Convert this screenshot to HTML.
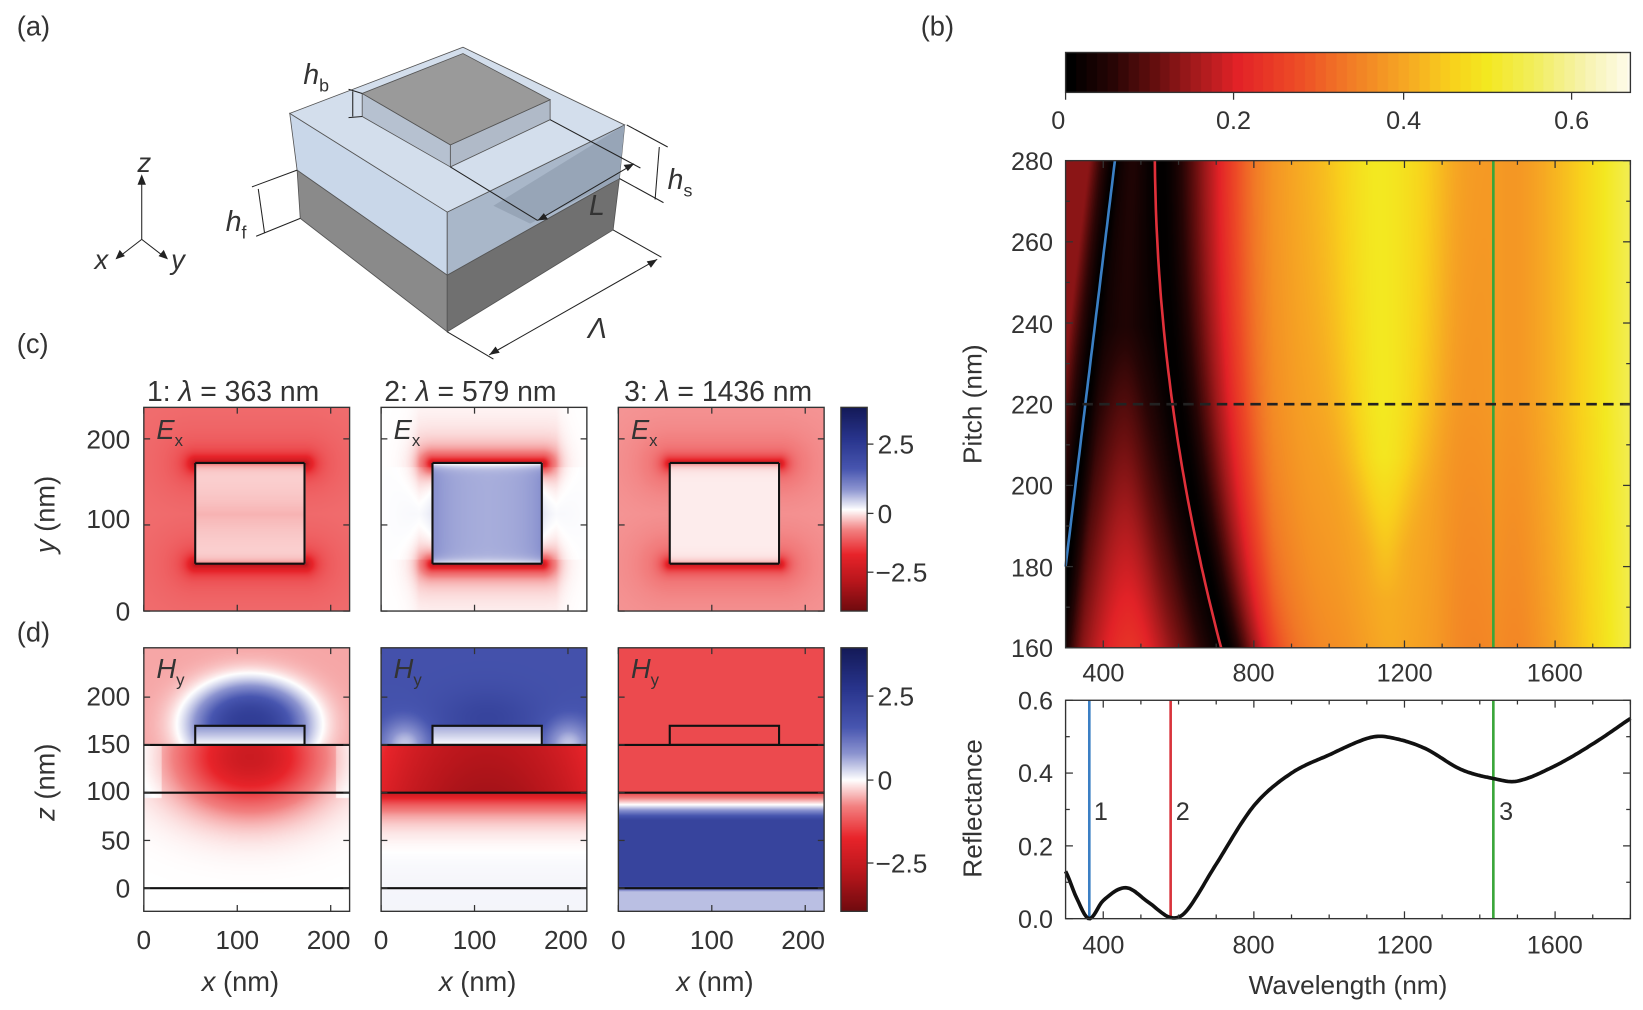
<!DOCTYPE html>
<html><head><meta charset="utf-8">
<style>
html,body{margin:0;padding:0;background:#fff;width:1643px;height:1010px;overflow:hidden}
#w{position:absolute;left:0;top:0;width:1565px;height:962px;transform:scale(1.04984,1.04990);transform-origin:0 0}
canvas{position:absolute}
svg{position:absolute;left:0;top:0}
text{font-family:"Liberation Sans",sans-serif;fill:#333}
</style></head><body>
<div id="w">
<canvas id="hb" width="538" height="464" style="left:1015px;top:153px"></canvas>
<canvas id="cbb" width="538" height="38" style="left:1015px;top:50px"></canvas>
<canvas id="c0" width="196" height="194" style="left:137px;top:388px"></canvas>
<canvas id="c1" width="196" height="194" style="left:363px;top:388px"></canvas>
<canvas id="c2" width="196" height="194" style="left:589px;top:388px"></canvas>
<canvas id="d0" width="196" height="251" style="left:137px;top:617px"></canvas>
<canvas id="d1" width="196" height="251" style="left:363px;top:617px"></canvas>
<canvas id="d2" width="196" height="251" style="left:589px;top:617px"></canvas>
<canvas id="cc" width="25" height="194" style="left:801px;top:388px"></canvas>
<canvas id="cd" width="25" height="251" style="left:801px;top:617px"></canvas>
<svg width="1565" height="962" viewBox="0 0 1565 962">
<g id="draw"></g>
<g stroke="#555" stroke-width="0.8">
<polygon points="283,162 426,262 426,316 286,208" fill="#8a8a8a"/>
<polygon points="426,262 590,170 584,219 426,316" fill="#707070"/>
<polygon points="276,108 426,202 426,262 283,162" fill="#c9d7e9"/>
<polygon points="426,202 595,119 590,170 426,262" fill="#a9b7c9"/>
<polygon points="276,108 441,45 595,119 426,202" fill="#d3deec"/>
<polygon points="470,196 595,119 590,170 505,213" fill="#97a5b7" stroke="none"/>
<polygon points="345,89 429,138 429,159 345,111" fill="#b6c1d0"/>
<polygon points="429,138 524,95 524,114 429,159" fill="#b0bac8"/>
<polygon points="345,89 441,51 524,95 429,138" fill="#9a9a9a"/>
</g>
<g stroke="#222" stroke-width="1" fill="none">
<line x1="429" y1="159" x2="512" y2="210"/>
<line x1="524" y1="114" x2="610" y2="160"/>
<line x1="512" y1="210" x2="604" y2="156"/>
<line x1="332" y1="85" x2="345" y2="89"/><line x1="332" y1="112" x2="345" y2="111"/>
<line x1="336" y1="87" x2="336" y2="111"/>
<line x1="597" y1="119" x2="636" y2="140"/><line x1="590" y1="170" x2="632" y2="193"/>
<line x1="628" y1="140" x2="624" y2="190"/>
<line x1="283" y1="162" x2="240" y2="178"/><line x1="286" y1="208" x2="244" y2="225"/>
<line x1="246" y1="180" x2="252" y2="222"/>
<line x1="584" y1="219" x2="630" y2="245"/><line x1="426" y1="316" x2="470" y2="342"/>
<line x1="466" y1="338" x2="626" y2="247"/>
<line x1="135" y1="228" x2="135" y2="170"/><line x1="135" y1="228" x2="113" y2="245"/><line x1="135" y1="228" x2="157" y2="245"/>
</g>
<g fill="#222">
<polygon points="135,166 131,176 139,176"/><polygon points="110,247 114,238 119,244"/><polygon points="160,247 151,244 156,238"/>
<polygon points="466,338 476,336 472,330"/><polygon points="626,247 616,249 620,255"/>
<polygon points="512,210 522,209 518,203"/><polygon points="604,156 594,157 598,163"/>
</g>
<text x="131" y="164" font-size="26" font-style="italic">z</text>
<text x="90" y="256" font-size="26" font-style="italic">x</text>
<text x="163" y="256" font-size="26" font-style="italic">y</text>
<text x="289" y="80" font-size="27" font-style="italic">h<tspan font-size="17" dy="7" font-style="normal">b</tspan></text>
<text x="636" y="180" font-size="27" font-style="italic">h<tspan font-size="17" dy="7" font-style="normal">s</tspan></text>
<text x="215" y="220" font-size="27" font-style="italic">h<tspan font-size="17" dy="7" font-style="normal">f</tspan></text>
<text x="561" y="205" font-size="27" font-style="italic">L</text>
<text x="560" y="322" font-size="27" font-style="italic">Λ</text>
<text x="16" y="34" font-size="26">(a)</text>
<text x="877" y="34" font-size="26">(b)</text>
<text x="16" y="336" font-size="26">(c)</text>
<text x="16" y="611" font-size="26">(d)</text>
<text x="222" y="382" font-size="27" text-anchor="middle">1: <tspan font-style="italic">λ</tspan> = 363 nm</text>
<text x="448" y="382" font-size="27" text-anchor="middle">2: <tspan font-style="italic">λ</tspan> = 579 nm</text>
<text x="684" y="382" font-size="27" text-anchor="middle">3: <tspan font-style="italic">λ</tspan> = 1436 nm</text>
<g font-size="26" font-style="italic">
<text x="149" y="418">E<tspan font-size="16" dy="7" font-style="normal">x</tspan></text>
<text x="375" y="418">E<tspan font-size="16" dy="7" font-style="normal">x</tspan></text>
<text x="601" y="418">E<tspan font-size="16" dy="7" font-style="normal">x</tspan></text>
<text x="149" y="646">H<tspan font-size="16" dy="7" font-style="normal">y</tspan></text>
<text x="375" y="646">H<tspan font-size="16" dy="7" font-style="normal">y</tspan></text>
<text x="601" y="646">H<tspan font-size="16" dy="7" font-style="normal">y</tspan></text>
</g>
<g font-size="25" text-anchor="end">
<text x="124" y="427">200</text><text x="124" y="503">100</text><text x="124" y="591">0</text>
<text x="124" y="672">200</text><text x="124" y="717">150</text><text x="124" y="762">100</text><text x="124" y="809">50</text><text x="124" y="855">0</text>
</g>
<text transform="translate(52,490) rotate(-90)" font-size="26" text-anchor="middle"><tspan font-style="italic">y</tspan> (nm)</text>
<text transform="translate(52,745) rotate(-90)" font-size="26" text-anchor="middle"><tspan font-style="italic">z</tspan> (nm)</text>
<g font-size="25" text-anchor="middle">
<text x="137" y="904">0</text><text x="226" y="904">100</text><text x="313" y="904">200</text>
<text x="363" y="904">0</text><text x="452" y="904">100</text><text x="539" y="904">200</text>
<text x="589" y="904">0</text><text x="678" y="904">100</text><text x="765" y="904">200</text>
</g>
<g font-size="26" text-anchor="middle">
<text x="229" y="944"><tspan font-style="italic">x</tspan> (nm)</text>
<text x="455" y="944"><tspan font-style="italic">x</tspan> (nm)</text>
<text x="681" y="944"><tspan font-style="italic">x</tspan> (nm)</text>
</g>
<g font-size="25">
<text x="836" y="432">2.5</text><text x="836" y="498">0</text><text x="834" y="554">−2.5</text>
<text x="836" y="672">2.5</text><text x="836" y="752">0</text><text x="834" y="831">−2.5</text>
</g>
<g font-size="24" text-anchor="middle">
<text x="1008" y="123">0</text><text x="1175" y="123">0.2</text><text x="1337" y="123">0.4</text><text x="1497" y="123">0.6</text>
</g>
<g font-size="24" text-anchor="end">
<text x="1003" y="162">280</text><text x="1003" y="239">260</text><text x="1003" y="317">240</text><text x="1003" y="394">220</text><text x="1003" y="471">200</text><text x="1003" y="549">180</text><text x="1003" y="626">160</text>
<text x="1003" y="676">0.6</text><text x="1003" y="745">0.4</text><text x="1003" y="815">0.2</text><text x="1003" y="884">0.0</text>
</g>
<g font-size="24" text-anchor="middle">
<text x="1051" y="649">400</text><text x="1194" y="649">800</text><text x="1338" y="649">1200</text><text x="1481" y="649">1600</text>
<text x="1051" y="908">400</text><text x="1194" y="908">800</text><text x="1338" y="908">1200</text><text x="1481" y="908">1600</text>
</g>
<text transform="translate(935,385) rotate(-90)" font-size="25" text-anchor="middle">Pitch (nm)</text>
<text transform="translate(935,770) rotate(-90)" font-size="25" text-anchor="middle">Reflectance</text>
<text x="1284" y="947" font-size="25" text-anchor="middle">Wavelength (nm)</text>
<text x="1042" y="781" font-size="24">1</text><text x="1120" y="781" font-size="24">2</text><text x="1428" y="781" font-size="24">3</text>
</svg>
</div>
<script>
function lerpStops(st,t){t=Math.max(0,Math.min(1,t));for(let i=1;i<st.length;i++){if(t<=st[i][0]){const a=st[i-1],b=st[i],f=(t-a[0])/(b[0]-a[0]);return [a[1]+(b[1]-a[1])*f,a[2]+(b[2]-a[2])*f,a[3]+(b[3]-a[3])*f];}}const l=st[st.length-1];return [l[1],l[2],l[3]];}
const HOT=[[0,0,0,0],[0.05,40,5,5],[0.1,100,14,14],[0.15,165,26,28],[0.2,226,34,39],[0.27,237,74,38],[0.33,241,120,38],[0.4,246,166,35],[0.46,248,210,28],[0.5,243,232,32],[0.56,242,238,96],[0.62,247,243,176],[0.68,255,253,245]];
const DIV=[[0,110,10,14],[0.15,185,22,28],[0.28,232,36,42],[0.4,242,128,128],[0.5,255,255,255],[0.6,140,148,208],[0.7,72,86,176],[0.85,40,52,140],[1,20,26,88]];
const pts=[[200,0.3],[300,0.13],[330,0.055],[363,0],[400,0.05],[460,0.085],[520,0.045],[579,0.003],[620,0.02],[700,0.15],[800,0.31],[900,0.40],[1000,0.45],[1100,0.495],[1150,0.50],[1250,0.47],[1350,0.41],[1436,0.385],[1500,0.378],[1600,0.42],[1700,0.48],[1800,0.55],[1900,0.62]];
function curve(w){for(let i=1;i<pts.length-2;i++){if(w<=pts[i+1][0]){const p0=pts[i-1],p1=pts[i],p2=pts[i+1],p3=pts[i+2];const t=(w-p1[0])/(p2[0]-p1[0]);const m1=(p2[1]-p0[1])/(p2[0]-p0[0])*(p2[0]-p1[0]),m2=(p3[1]-p1[1])/(p3[0]-p1[0])*(p2[0]-p1[0]);const t2=t*t,t3=t2*t;return (2*t3-3*t2+1)*p1[1]+(t3-2*t2+t)*m1+(-2*t3+3*t2)*p2[1]+(t3-t2)*m2;}}return pts[pts.length-2][1];}
function w1(p){return 300+(p-180)*1.31;}
function w2(p){const d=p-220;return 584-1.467*d+0.0114*d*d;}
function R(w,p){const a=w1(p),b=w2(p);let r;
 if(w<b){let wp;if(w>=a){wp=363+(w-a)/(b-a)*216;r=curve(wp);r*=Math.max(0.45,1+(220-p)/35);}else{wp=Math.max(300,363-(a-w)*0.9);r=curve(wp);} }
 else{const wp=w-(b-579)*Math.exp(-(w-b)/300);r=curve(wp);
  const hw=Math.max(40,30+(p-180)*2.4);const A=Math.max(0,Math.min(1,(p-172)/35));const V=A*Math.exp(-Math.pow((w-1150)/hw,2));
  if(w>850&&w<1450){const f=Math.sin(Math.PI*(w-850)/600);r-=0.07*(1-V)*f;}
  if(p<220)r-=0.03*(220-p)/60*Math.exp(-Math.pow((w-1300)/400,2));}
 return Math.max(0,r);}
function fill(id,fn,cm){const c=document.getElementById(id),g=c.getContext('2d'),W=c.width,H=c.height,im=g.createImageData(W,H);for(let j=0;j<H;j++)for(let i=0;i<W;i++){const col=lerpStops(cm,fn(i,j,W,H));const k=(j*W+i)*4;im.data[k]=col[0];im.data[k+1]=col[1];im.data[k+2]=col[2];im.data[k+3]=255;}g.putImageData(im,0,0);}
fill('hb',(i,j)=>{const w=300+i/538*1500,p=280-j/464*120;return R(w,p);},HOT);
fill('cbb',(i)=>Math.floor(i/538*0.68*80)/80,HOT);
fill('cc',(i,j,W,H)=>1-j/H,DIV);fill('cd',(i,j,W,H)=>1-j/H,DIV);
function segd(x,y,x0,x1,ye){const dx=x<x0?x0-x:(x>x1?x-x1:0);return Math.hypot(dx,y-ye);}
function cfield(kind){return (i,j)=>{const x=i/0.89,y=(194-j)/0.82;const inside=x>55&&x<172&&y>55&&y<172;
 const dt=segd(x,y,55,172,172),db=segd(x,y,55,172,55),de=Math.min(dt,db);
 const dl=Math.abs(x-55),dr=Math.abs(x-172),ds=Math.min(dl,dr);
 let t;
 if(kind==0){t=inside?0.47:0.38;t-=(inside?0.08:0.2)*Math.exp(-de/(inside?4:7));if(!inside)t-=0.05*Math.exp(-de/35);if(inside)t-=0.03*Math.exp(-Math.abs(y-113)/30);}
 else if(kind==1){t=inside?0.575:0.5;t-=(inside?0.1:0.26)*Math.exp(-de/(inside?4:8));if(!inside){const vert=(x>40&&x<187)?1:Math.exp(-Math.min(Math.abs(x-40),Math.abs(x-187))/10);t-=0.09*Math.exp(-de/28)*vert;t+=0.035*Math.exp(-ds/18)*(y>60&&y<168?1:0);}else t+=0.03*Math.exp(-ds/20);}
 else{t=inside?0.485:0.42;t-=(inside?0.08:0.2)*Math.exp(-de/(inside?4:7));if(!inside)t-=0.04*Math.exp(-de/35);}
 return t;};}
fill('c0',cfield(0),DIV);fill('c1',cfield(1),DIV);fill('c2',cfield(2),DIV);
function dfield(kind){return (i,j)=>{const x=i/0.89,z=(229-j)/0.91;const inbox=x>55&&x<172&&z>150&&z<170;let t;
 if(kind==0){
  if(inbox)t=0.5+0.1*(z-150)/20;
  else if(z>=150){const g=Math.exp(-Math.pow(Math.pow((x-113)/64,2)+Math.pow((z-172)/44,2),1.3));t=0.43+0.38*g;}
  else{const g=Math.exp(-(Math.pow((x-113)/78,2)+Math.pow((z-138)/55,2)));t=0.5-0.3*g;if(z>95&&(x<18||x>205))t+=0.03;}
 }else if(kind==1){
  if(inbox)t=0.5+0.08*(z-150)/20;
  else if(z>=150){t=0.72+0.06*Math.exp(-Math.pow((x-113)/50,2)-Math.pow((z-178)/30,2));t-=0.17*Math.exp(-(Math.pow(x-25,2)+Math.pow(z-150,2))/700)+0.17*Math.exp(-(Math.pow(x-200,2)+Math.pow(z-150,2))/700);}
  else if(z>=100){t=0.11+0.14*Math.pow((x-113)/110,2)+0.04*(z-100)/50;}
  else{t=0.51-0.31*Math.exp(-(100-z)/18);}
 }else{
  if(z>=100)t=0.33;else if(z>88)t=0.33+0.17*(100-z)/12;else if(z>72)t=0.5+0.28*(88-z)/16;else if(z>3)t=0.78;else if(z>-3)t=0.78-0.22*(3-z)/6;else t=0.56;
 }
 return t;};}
fill('d0',dfield(0),DIV);fill('d1',dfield(1),DIV);fill('d2',dfield(2),DIV);
const NS='http://www.w3.org/2000/svg',G=document.getElementById('draw');
function el(tag,a){const e=document.createElementNS(NS,tag);for(const k in a)e.setAttribute(k,a[k]);G.appendChild(e);return e;}
function line(x1,y1,x2,y2,s,w,extra){const a={x1,y1,x2,y2,stroke:s||'#333','stroke-width':w||1.2};Object.assign(a,extra||{});return el('line',a);}
function rect(x,y,w,h,s,sw){el('rect',{x,y,width:w,height:h,fill:'none',stroke:s||'#333','stroke-width':sw||1.3});}
for(let k=0;k<3;k++){const x0=[137,363,589][k];
 rect(x0,388,196,194);
 line(x0+55*0.89,582-172*0.82,x0+172*0.89,582-172*0.82,'#111',2);line(x0+55*0.89,582-55*0.82,x0+172*0.89,582-55*0.82,'#111',2);
 line(x0+55*0.89,582-172*0.82,x0+55*0.89,582-55*0.82,'#111',2);line(x0+172*0.89,582-172*0.82,x0+172*0.89,582-55*0.82,'#111',2);
 for(const v of [0,100,200]){const y=582-v*0.82;line(x0,y,x0+6,y);line(x0+196,y,x0+190,y);const x=x0+v*0.89;line(x,582,x,576);line(x,388,x,394);}
 rect(x0,617,196,251);
 for(const z of [150,100,0]){const y=846-z*0.91;line(x0,y,x0+196,y,'#111',2);}
 el('rect',{x:x0+55*0.89,y:846-170*0.91,width:117*0.89,height:20*0.91,fill:'none',stroke:'#111','stroke-width':2});
 for(const v of [0,50,100,150,200]){const y=846-v*0.91;line(x0,y,x0+6,y);line(x0+196,y,x0+190,y);}
 for(const v of [0,100,200]){const x=x0+v*0.89;line(x,868,x,862);line(x,617,x,623);}
}
rect(801,388,25,194);rect(801,617,25,251);
for(const y of [423,489,545]){line(826,y,832,y);}for(const y of [663,743,822]){line(826,y,832,y);}
rect(1015,50,538,38);for(const x of [1015,1175,1337,1497])line(x,88,x,95);
const X=w=>1015+(w-300)*538/1500,Yp=p=>153+(280-p)*464/120,Yr=r=>875-r*208/0.6;
let d='';for(let p=180;p<=280;p+=2){d+=(p==180?'M':'L')+X(w1(p)).toFixed(1)+','+Yp(p).toFixed(1);}
el('path',{d,fill:'none',stroke:'#3b7fc4','stroke-width':2.5});
d='';for(let p=160;p<=280;p+=2){d+=(p==160?'M':'L')+X(w2(p)).toFixed(1)+','+Yp(p).toFixed(1);}
el('path',{d,fill:'none',stroke:'#e0303a','stroke-width':2.5});
line(X(1436),153,X(1436),617,'#3aa63a',2.5);
line(1015,Yp(220),1553,Yp(220),'#222',2.5,{'stroke-dasharray':'10,6'});
rect(1015,153,538,464);
for(let w=400;w<=1800;w+=100){const x=X(w),L=(w%400==0)?7:4;line(x,617,x,617-L);line(x,153,x,153+L);}
for(let p=160;p<=280;p+=10){const y=Yp(p),L=(p%20==0)?7:4;line(1015,y,1015+L,y);line(1553,y,1553-L,y);}
line(X(363),667,X(363),875,'#3b7fc4',2.5);line(X(579),667,X(579),875,'#d9343c',2.5);line(X(1436),667,X(1436),875,'#3aa63a',2.5);
d='';for(let w=300;w<=1800;w+=5){d+=(w==300?'M':'L')+X(w).toFixed(1)+','+Yr(Math.max(0,curve(w))).toFixed(1);}
el('path',{d,fill:'none',stroke:'#111','stroke-width':3.5});
rect(1015,667,538,208);
for(let w=400;w<=1800;w+=100){const x=X(w),L=(w%400==0)?7:4;line(x,875,x,875-L);line(x,667,x,667+L);}
for(let r=0;r<=0.6001;r+=0.1){const y=Yr(r),L=(Math.round(r*10)%2==0)?7:4;line(1015,y,1015+L,y);line(1553,y,1553-L,y);}
</script>
</body></html>
